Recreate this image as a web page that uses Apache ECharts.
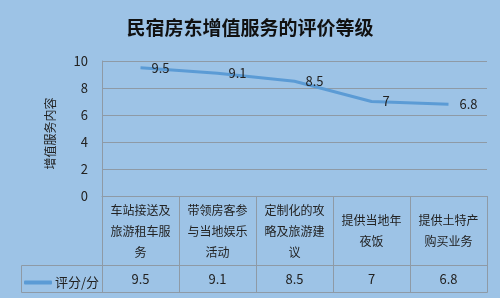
<!DOCTYPE html>
<html><head><meta charset="utf-8">
<script src="https://cdn.jsdelivr.net/npm/echarts@6/dist/echarts.min.js"></script>
<style>html,body{margin:0;padding:0;background:#9dc3e6;}#c{width:500px;height:298px;}</style>
</head><body><div id="c"></div>
<script>
const titleText = '民宿房东增值服务的评价等级';
const categories = ['车站接送及\n旅游租车服\n务', '带领房客参\n与当地娱乐\n活动', '定制化的攻\n略及旅游建\n议', '提供当地年\n夜饭', '提供土特产\n购买业务'];
const seriesName = '评分/分';
const scores = [9.5, 9.1, 8.5, 7, 6.8];
const yTicks = { min: 0, max: 10, interval: 2 };
const yName = '增值服务内容';

const W = 500, H = 298;
const G = { left: 102, right: 13, top: 61, bottom: 102 };
const axisY = H - G.bottom;          // 196
const rowTop = axisY + 69;           // 265
const rowBottom = axisY + 96;        // 292
const tableLeft = 21;
const gridRight = W - G.right;
const font = '"Noto Sans CJK SC", "Microsoft YaHei", sans-serif';
const lineCol = '#8e9aa6';

const chart = echarts.init(document.getElementById('c'), null, { renderer: 'canvas' });
chart.setOption({
  backgroundColor: '#9dc3e6',
  textStyle: { fontFamily: font },
  animation: false,
  title: { text: titleText, left: 'center', top: 13, textStyle: { fontSize: 19, fontWeight: 'bold', color: '#111', fontFamily: font } },
  grid: G,
  legend: {
    data: [seriesName], left: 24, top: rowTop + 11, padding: 0, itemWidth: 28, itemHeight: 4, itemGap: 5,
    icon: 'roundRect', itemStyle: { color: '#5b9bd5', opacity: 1 },
    textStyle: { fontSize: 13, color: '#222', fontFamily: font, padding: [0, 0, 0, -2] }
  },
  xAxis: [{
    type: 'category', data: categories, boundaryGap: true,
    axisLine: { show: true, lineStyle: { color: lineCol } },
    axisTick: { show: true, interval: 0, length: 96, lineStyle: { color: lineCol } },
    axisLabel: { interval: 0, margin: 35, verticalAlign: 'middle', lineHeight: 21, fontSize: 12, color: '#222', fontFamily: font }
  }, {
    type: 'category', data: categories, position: 'bottom', offset: 83,
    axisLine: { show: false }, axisTick: { show: false },
    axisLabel: { interval: 0, margin: 0, verticalAlign: 'middle', fontSize: 13, color: '#222', fontFamily: font,
      formatter: (v, i) => String(scores[i]) }
  }],
  yAxis: {
    type: 'value', min: yTicks.min, max: yTicks.max, interval: yTicks.interval,
    name: yName, nameLocation: 'middle', nameRotate: 90, nameGap: 46,
    nameTextStyle: { fontSize: 12, color: '#222', fontFamily: font, padding: [0, 10, 0, 0] },
    axisLine: { show: true, lineStyle: { color: lineCol } },
    axisTick: { show: false },
    splitLine: { lineStyle: { color: lineCol } },
    axisLabel: { margin: 14, fontSize: 13, color: '#222' }
  },
  series: [{
    name: seriesName, type: 'line', data: scores, xAxisIndex: 0,
    symbol: 'circle', symbolSize: 0, itemStyle: { color: '#5b9bd5' },
    lineStyle: { width: 3, color: '#5b9bd5' },
    label: { show: true, position: 'right', distance: 11, fontSize: 13, color: '#222', formatter: p => String(p.value) }
  }],
  graphic: [{
    type: 'rect', silent: true,
    shape: { x: tableLeft + 0.5, y: rowTop + 0.5, width: gridRight - tableLeft, height: rowBottom - rowTop },
    style: { fill: null, stroke: lineCol, lineWidth: 1 }
  }]
});
</script></body></html>
